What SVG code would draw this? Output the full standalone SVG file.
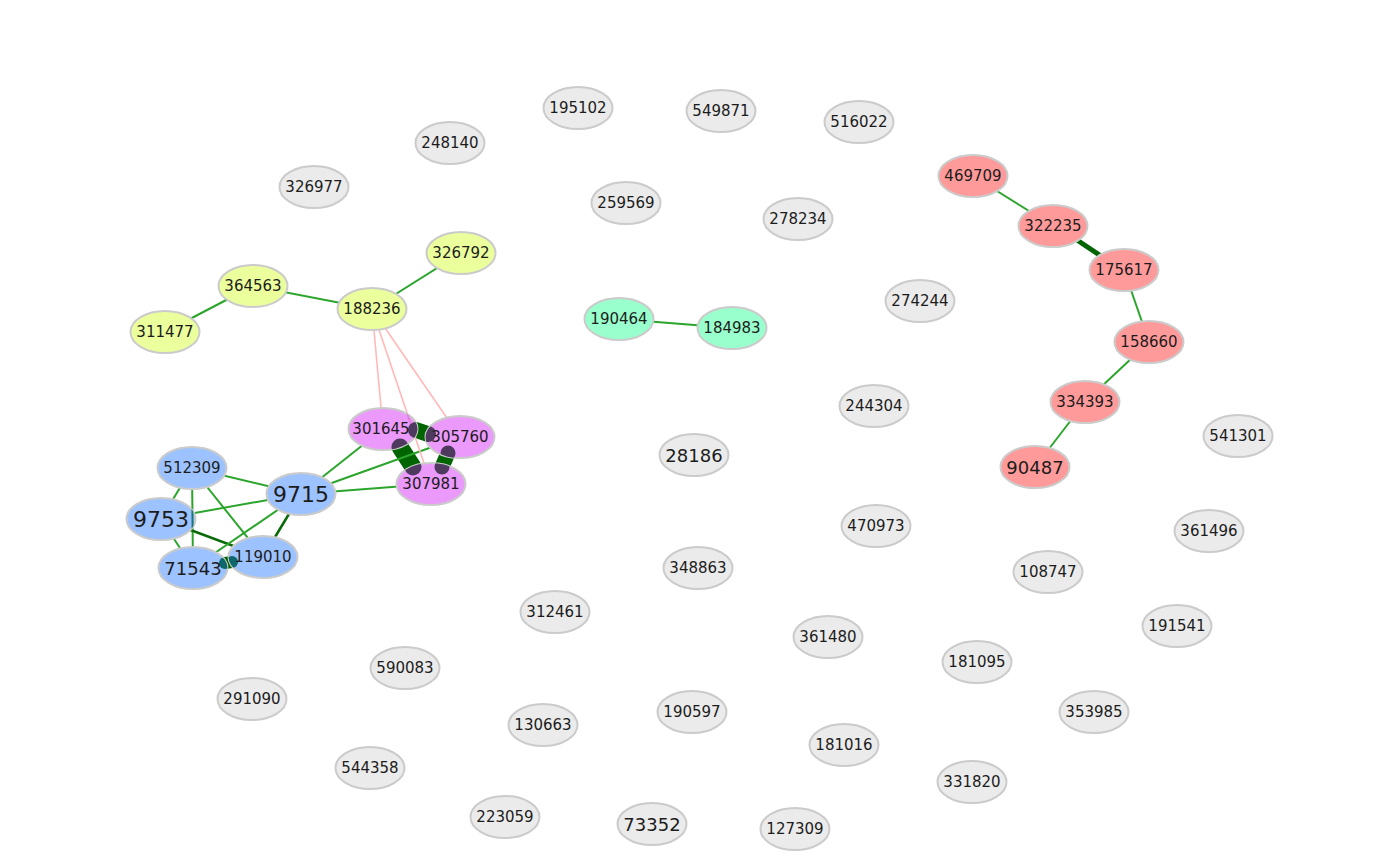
<svg xmlns="http://www.w3.org/2000/svg" width="1400" height="866" viewBox="0 0 1400 866">
<style>
.n{stroke:#cbcbcb;stroke-width:2}
.g{fill:#ebebeb}.r{fill:#ff9a9a}.y{fill:#ebff9c}.t{fill:#99ffcc}.p{fill:#eb99fb}.b{fill:#9cc3ff}
text{font-family:"DejaVu Sans",Verdana,sans-serif;text-anchor:middle;fill:#1c1c1c}
.s{font-size:15px}.m{font-size:18px}.l{font-size:22px}
.e{stroke:#2ca52c;stroke-width:2;fill:none}
.d{stroke:#0a6a0a;stroke-width:2.6;fill:none}
.k{stroke:#006400;stroke-linecap:round;fill:none}
.pk{stroke:#ffb9b9;stroke-width:1.6;fill:none}
.cp{fill:#4d3a5e}.ct{fill:#0e686b}
</style>
<defs>
<clipPath id="c301645"><ellipse cx="383" cy="429" rx="34.5" ry="21"/></clipPath>
<clipPath id="c305760"><ellipse cx="460" cy="437" rx="34.5" ry="21"/></clipPath>
<clipPath id="c307981"><ellipse cx="431" cy="484" rx="34.5" ry="21"/></clipPath>
<clipPath id="c71543"><ellipse cx="193" cy="568" rx="34.5" ry="21"/></clipPath>
<clipPath id="c119010"><ellipse cx="263" cy="557" rx="34.5" ry="21"/></clipPath>
<clipPath id="c9753"><ellipse cx="161" cy="519" rx="34.5" ry="21"/></clipPath>
</defs>
<g id="edges">
<line class="e" x1="165" y1="332" x2="253" y2="286"/>
<line class="e" x1="253" y1="286" x2="372" y2="309"/>
<line class="e" x1="372" y1="309" x2="461" y2="253"/>
<line class="e" x1="619" y1="319" x2="732" y2="328"/>
<line class="e" x1="973" y1="176" x2="1053" y2="226"/>
<line class="k" x1="1077" y1="240" x2="1101" y2="256" stroke-width="5" stroke-linecap="butt"/>
<line class="e" x1="1124" y1="270" x2="1149" y2="342"/>
<line class="e" x1="1149" y1="342" x2="1085" y2="402"/>
<line class="e" x1="1085" y1="402" x2="1035" y2="467"/>
<line class="k" x1="416" y1="430" x2="428" y2="434" stroke-width="16"/>
<line class="k" x1="400" y1="447" x2="413" y2="467" stroke-width="17"/>
<line class="k" x1="448" y1="453" x2="442" y2="467" stroke-width="15"/>
<line class="k" x1="225" y1="563" x2="232" y2="562" stroke-width="12"/>
<line class="e" x1="192" y1="468" x2="301" y2="494"/>
<line class="e" x1="192" y1="468" x2="161" y2="519"/>
<line class="e" x1="192" y1="468" x2="193" y2="568"/>
<line class="e" x1="192" y1="468" x2="263" y2="557"/>
<line class="e" x1="161" y1="519" x2="301" y2="494"/>
<line class="e" x1="161" y1="519" x2="193" y2="568"/>
<line class="d" x1="161" y1="519" x2="263" y2="557"/>
<line class="e" x1="301" y1="494" x2="193" y2="568"/>
<line class="d" x1="301" y1="494" x2="263" y2="557"/>
<line class="e" x1="301" y1="494" x2="383" y2="429"/>
<line class="e" x1="301" y1="494" x2="460" y2="437"/>
<line class="e" x1="301" y1="494" x2="431" y2="484"/>
<line class="pk" x1="372" y1="309" x2="383" y2="429"/>
<line class="pk" x1="372" y1="309" x2="431" y2="484"/>
<line class="pk" x1="372" y1="309" x2="460" y2="437"/>
</g>
<g id="n195102"><ellipse class="n g" cx="578" cy="108" rx="34.5" ry="21"/><text class="s" x="578" y="113">195102</text></g>
<g id="n549871"><ellipse class="n g" cx="721" cy="111" rx="34.5" ry="21"/><text class="s" x="721" y="116">549871</text></g>
<g id="n516022"><ellipse class="n g" cx="859" cy="122" rx="34.5" ry="21"/><text class="s" x="859" y="127">516022</text></g>
<g id="n248140"><ellipse class="n g" cx="450" cy="143" rx="34.5" ry="21"/><text class="s" x="450" y="148">248140</text></g>
<g id="n326977"><ellipse class="n g" cx="314" cy="187" rx="34.5" ry="21"/><text class="s" x="314" y="192">326977</text></g>
<g id="n259569"><ellipse class="n g" cx="626" cy="203" rx="34.5" ry="21"/><text class="s" x="626" y="208">259569</text></g>
<g id="n278234"><ellipse class="n g" cx="798" cy="219" rx="34.5" ry="21"/><text class="s" x="798" y="224">278234</text></g>
<g id="n274244"><ellipse class="n g" cx="920" cy="301" rx="34.5" ry="21"/><text class="s" x="920" y="306">274244</text></g>
<g id="n244304"><ellipse class="n g" cx="874" cy="406" rx="34.5" ry="21"/><text class="s" x="874" y="411">244304</text></g>
<g id="n541301"><ellipse class="n g" cx="1238" cy="436" rx="34.5" ry="21"/><text class="s" x="1238" y="441">541301</text></g>
<g id="n28186"><ellipse class="n g" cx="694" cy="455" rx="34.5" ry="21"/><text class="m" x="694" y="461.5">28186</text></g>
<g id="n470973"><ellipse class="n g" cx="876" cy="526" rx="34.5" ry="21"/><text class="s" x="876" y="531">470973</text></g>
<g id="n361496"><ellipse class="n g" cx="1209" cy="531" rx="34.5" ry="21"/><text class="s" x="1209" y="536">361496</text></g>
<g id="n348863"><ellipse class="n g" cx="698" cy="568" rx="34.5" ry="21"/><text class="s" x="698" y="573">348863</text></g>
<g id="n108747"><ellipse class="n g" cx="1048" cy="572" rx="34.5" ry="21"/><text class="s" x="1048" y="577">108747</text></g>
<g id="n312461"><ellipse class="n g" cx="555" cy="612" rx="34.5" ry="21"/><text class="s" x="555" y="617">312461</text></g>
<g id="n191541"><ellipse class="n g" cx="1177" cy="626" rx="34.5" ry="21"/><text class="s" x="1177" y="631">191541</text></g>
<g id="n361480"><ellipse class="n g" cx="828" cy="637" rx="34.5" ry="21"/><text class="s" x="828" y="642">361480</text></g>
<g id="n590083"><ellipse class="n g" cx="405" cy="668" rx="34.5" ry="21"/><text class="s" x="405" y="673">590083</text></g>
<g id="n181095"><ellipse class="n g" cx="977" cy="662" rx="34.5" ry="21"/><text class="s" x="977" y="667">181095</text></g>
<g id="n291090"><ellipse class="n g" cx="252" cy="699" rx="34.5" ry="21"/><text class="s" x="252" y="704">291090</text></g>
<g id="n130663"><ellipse class="n g" cx="543" cy="725" rx="34.5" ry="21"/><text class="s" x="543" y="730">130663</text></g>
<g id="n190597"><ellipse class="n g" cx="692" cy="712" rx="34.5" ry="21"/><text class="s" x="692" y="717">190597</text></g>
<g id="n353985"><ellipse class="n g" cx="1094" cy="712" rx="34.5" ry="21"/><text class="s" x="1094" y="717">353985</text></g>
<g id="n181016"><ellipse class="n g" cx="844" cy="745" rx="34.5" ry="21"/><text class="s" x="844" y="750">181016</text></g>
<g id="n544358"><ellipse class="n g" cx="370" cy="768" rx="34.5" ry="21"/><text class="s" x="370" y="773">544358</text></g>
<g id="n331820"><ellipse class="n g" cx="972" cy="782" rx="34.5" ry="21"/><text class="s" x="972" y="787">331820</text></g>
<g id="n223059"><ellipse class="n g" cx="505" cy="817" rx="34.5" ry="21"/><text class="s" x="505" y="822">223059</text></g>
<g id="n73352"><ellipse class="n g" cx="652" cy="824" rx="34.5" ry="21"/><text class="m" x="652" y="830.5">73352</text></g>
<g id="n127309"><ellipse class="n g" cx="795" cy="829" rx="34.5" ry="21"/><text class="s" x="795" y="834">127309</text></g>
<g id="n469709"><ellipse class="n r" cx="973" cy="176" rx="34.5" ry="21"/><text class="s" x="973" y="181">469709</text></g>
<g id="n322235"><ellipse class="n r" cx="1053" cy="226" rx="34.5" ry="21"/><text class="s" x="1053" y="231">322235</text></g>
<g id="n175617"><ellipse class="n r" cx="1124" cy="270" rx="34.5" ry="21"/><text class="s" x="1124" y="275">175617</text></g>
<g id="n158660"><ellipse class="n r" cx="1149" cy="342" rx="34.5" ry="21"/><text class="s" x="1149" y="347">158660</text></g>
<g id="n334393"><ellipse class="n r" cx="1085" cy="402" rx="34.5" ry="21"/><text class="s" x="1085" y="407">334393</text></g>
<g id="n90487"><ellipse class="n r" cx="1035" cy="467" rx="34.5" ry="21"/><text class="m" x="1035" y="473.5">90487</text></g>
<g id="n190464"><ellipse class="n t" cx="619" cy="319" rx="34.5" ry="21"/><text class="s" x="619" y="324">190464</text></g>
<g id="n184983"><ellipse class="n t" cx="732" cy="328" rx="34.5" ry="21"/><text class="s" x="732" y="333">184983</text></g>
<g id="n326792"><ellipse class="n y" cx="461" cy="253" rx="34.5" ry="21"/><text class="s" x="461" y="258">326792</text></g>
<g id="n364563"><ellipse class="n y" cx="253" cy="286" rx="34.5" ry="21"/><text class="s" x="253" y="291">364563</text></g>
<g id="n311477"><ellipse class="n y" cx="165" cy="332" rx="34.5" ry="21"/><text class="s" x="165" y="337">311477</text></g>
<g id="n188236"><ellipse class="n y" cx="372" cy="309" rx="34.5" ry="21"/><text class="s" x="372" y="314">188236</text></g>
<g id="n301645"><ellipse class="n p" cx="383" cy="429" rx="34.5" ry="21"/><g clip-path="url(#c301645)"><line x1="372" y1="309" x2="431" y2="484" stroke="#e07ad2" stroke-width="1.6"/><circle class="cp" cx="416" cy="430" r="8"/><circle class="cp" cx="400" cy="447" r="8.5"/></g><text class="s" x="381" y="434">301645</text></g>
<g id="n305760"><ellipse class="n p" cx="460" cy="437" rx="34.5" ry="21"/><g clip-path="url(#c305760)"><circle class="cp" cx="428" cy="434" r="8"/><circle class="cp" cx="448" cy="453" r="7.5"/></g><text class="s" x="460" y="442">305760</text></g>
<g id="n307981"><ellipse class="n p" cx="431" cy="484" rx="34.5" ry="21"/><g clip-path="url(#c307981)"><circle class="cp" cx="413" cy="467" r="8.5"/><circle class="cp" cx="442" cy="467" r="7.5"/></g><text class="s" x="431" y="489">307981</text></g>
<g id="n512309"><ellipse class="n b" cx="192" cy="468" rx="34.5" ry="21"/><text class="s" x="192" y="473">512309</text></g>
<g id="n9715"><ellipse class="n b" cx="301" cy="494" rx="34.5" ry="21"/><text class="l" x="301" y="502">9715</text></g>
<g id="n9753"><ellipse class="n b" cx="161" cy="519" rx="34.5" ry="21"/><g clip-path="url(#c9753)"><line x1="192" y1="468" x2="193" y2="568" stroke="#1b7676" stroke-width="2"/></g><text class="l" x="161" y="527">9753</text></g>
<g id="n71543"><ellipse class="n b" cx="193" cy="568" rx="34.5" ry="21"/><g clip-path="url(#c71543)"><circle class="ct" cx="225" cy="563" r="6"/></g><text class="m" x="193" y="574.5">71543</text></g>
<g id="n119010"><ellipse class="n b" cx="263" cy="557" rx="34.5" ry="21"/><g clip-path="url(#c119010)"><circle class="ct" cx="232" cy="562" r="6"/></g><text class="s" x="263" y="562">119010</text></g>
</svg>
